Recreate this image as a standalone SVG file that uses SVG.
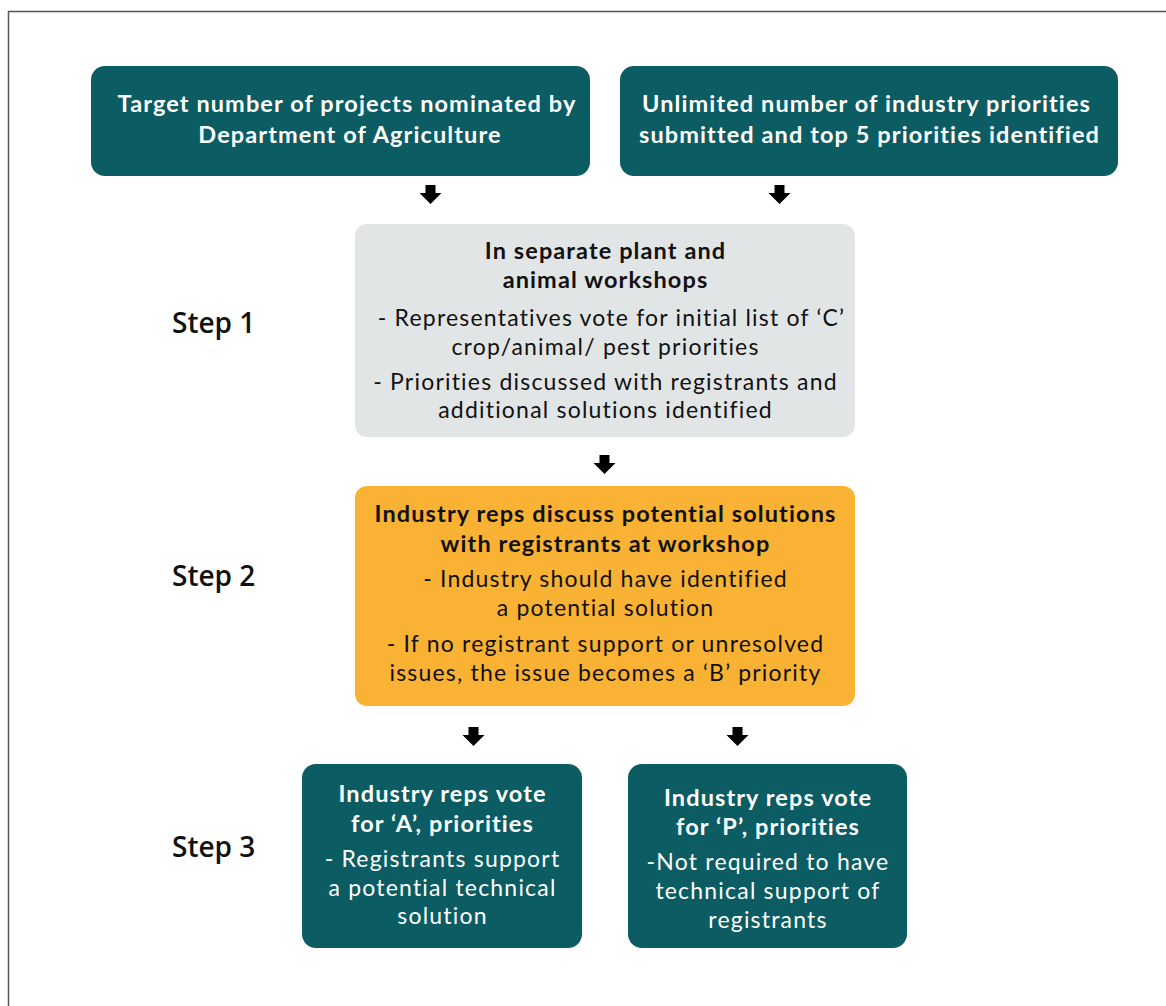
<svg xmlns="http://www.w3.org/2000/svg" width="1166" height="1006" viewBox="0 0 1166 1006">
<defs>
<style>
.teal{fill:#0b5c63}
.grey{fill:#e1e5e6}
.orange{fill:#f9b233}
text{font-family:Lato,"Open Sans","Liberation Sans",sans-serif;text-anchor:middle;font-size:23px;font-weight:400;letter-spacing:1.2px}
.w{fill:#ffffff}
.d{fill:#111111}
.b{font-weight:700;font-size:23.5px;letter-spacing:1.1px}
.step{font-family:"Open Sans",Lato,sans-serif;font-size:28px;font-weight:600;text-anchor:start;fill:#111111;letter-spacing:0}
.arr{fill:#000000}
</style>
<path id="arrow" d="M-5,0 H5 V8 H11 L0,19 L-11,8 H-5 Z"/>
</defs>
<rect width="1166" height="1006" fill="#ffffff"/>
<path d="M8.5,1006 V11.5 H1166" fill="none" stroke="#555555" stroke-width="1.5"/>

<g id="connectors" class="arr">
<use href="#arrow" x="430.5" y="185"/>
<use href="#arrow" x="779.5" y="185"/>
<use href="#arrow" x="604.5" y="455"/>
<use href="#arrow" x="473.5" y="727"/>
<use href="#arrow" x="737.5" y="727"/>
</g>

<g id="node-target">
<rect class="teal" x="91" y="66" width="499" height="110" rx="14"/>
<text class="w b"><tspan x="347" y="112">Target number of projects nominated by</tspan><tspan x="350" y="143">Department of Agriculture</tspan></text>
</g>
<g id="node-unlimited">
<rect class="teal" x="620" y="66" width="498" height="110" rx="14"/>
<text class="w b"><tspan x="866.5" y="112">Unlimited number of industry priorities</tspan><tspan x="869.5" y="143">submitted and top 5 priorities identified</tspan></text>
</g>
<g id="node-step1">
<rect class="grey" x="355" y="224" width="500" height="213" rx="12"/>
<text class="d b"><tspan x="605.5" y="259">In separate plant and</tspan><tspan x="605.5" y="288">animal workshops</tspan></text>
<text class="d"><tspan x="611.5" y="326">- Representatives vote for initial list of ‘C’</tspan><tspan x="605.5" y="355">crop/animal/ pest priorities</tspan></text>
<text class="d"><tspan x="605.5" y="390">- Priorities discussed with registrants and</tspan><tspan x="605.5" y="418">additional solutions identified</tspan></text>
</g>
<g id="node-step2">
<rect class="orange" x="355" y="486" width="500" height="220" rx="12"/>
<text class="d b"><tspan x="605.5" y="522">Industry reps discuss potential solutions</tspan><tspan x="605.5" y="552">with registrants at workshop</tspan></text>
<text class="d"><tspan x="605.5" y="587">- Industry should have identified</tspan><tspan x="605.5" y="616">a potential solution</tspan></text>
<text class="d"><tspan x="605.5" y="652">- If no registrant support or unresolved</tspan><tspan x="605.5" y="681">issues, the issue becomes a ‘B’ priority</tspan></text>
</g>
<g id="node-a">
<rect class="teal" x="302" y="764" width="280" height="184" rx="14"/>
<text class="w b"><tspan x="442.5" y="802">Industry reps vote</tspan><tspan x="442.5" y="832">for ‘A’, priorities</tspan></text>
<text class="w"><tspan x="442.5" y="867">- Registrants support</tspan><tspan x="442.5" y="896">a potential technical</tspan><tspan x="442.5" y="924">solution</tspan></text>
</g>
<g id="node-p">
<rect class="teal" x="628" y="764" width="279" height="184" rx="14"/>
<text class="w b"><tspan x="768" y="806">Industry reps vote</tspan><tspan x="768" y="835">for ‘P’, priorities</tspan></text>
<text class="w"><tspan x="768" y="870">-Not required to have</tspan><tspan x="768" y="899">technical support of</tspan><tspan x="768" y="928">registrants</tspan></text>
</g>
<g id="labels">
<text class="step" x="172" y="333">Step 1</text>
<text class="step" x="172" y="586">Step 2</text>
<text class="step" x="172" y="857">Step 3</text>
</g>
</svg>
